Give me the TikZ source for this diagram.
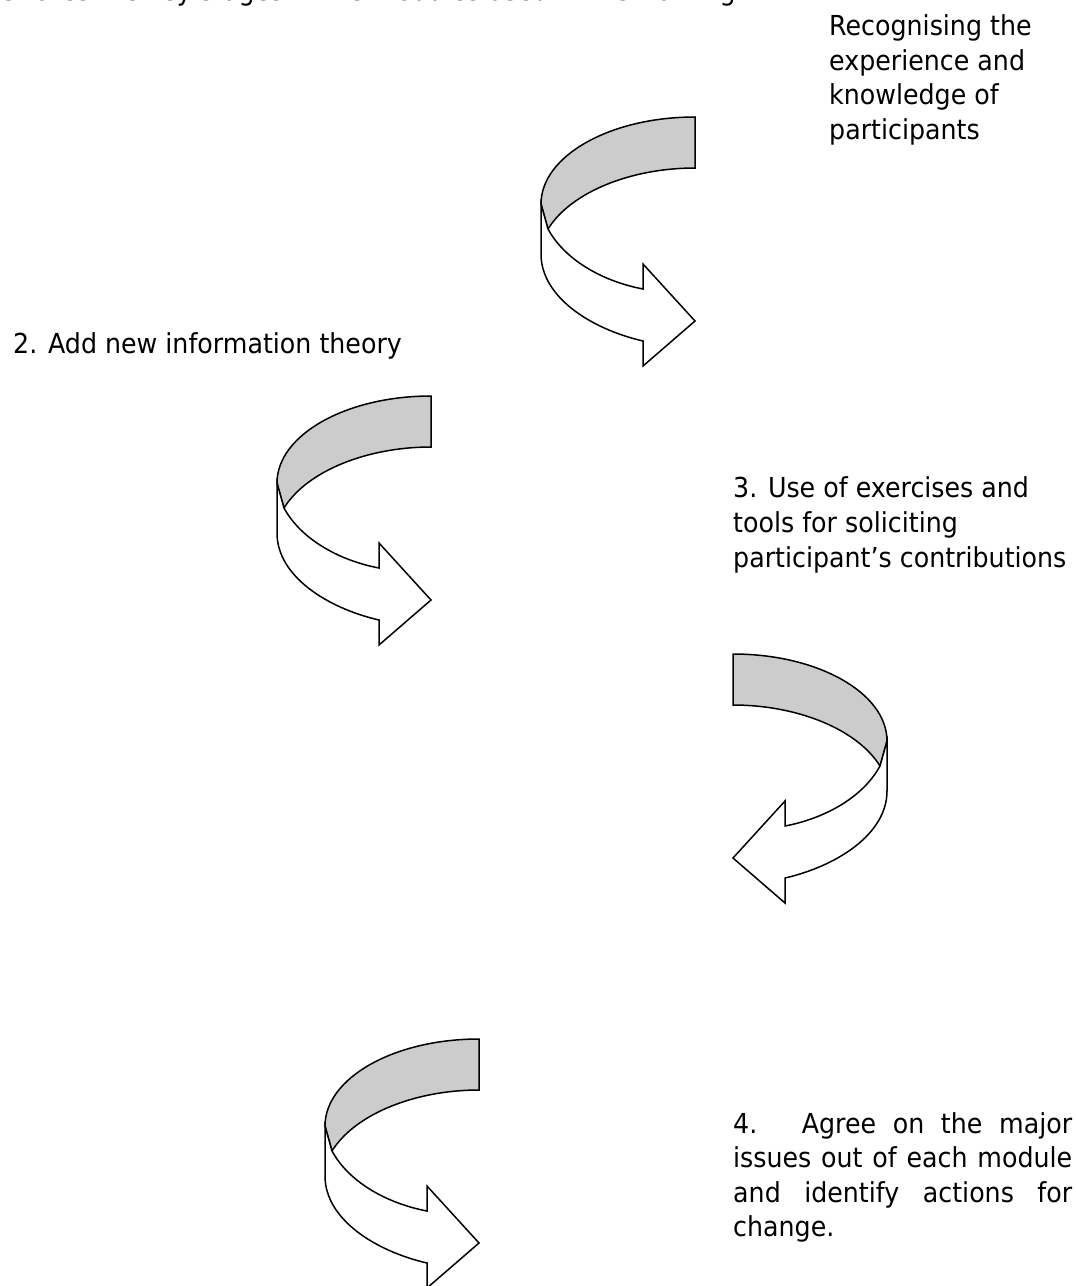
\documentclass[tikz,border=0pt]{standalone}
\usepackage{fontspec}
\setmainfont[FakeStretch=0.92]{DejaVu Sans}
\tikzset{
  lbl/.style={anchor=base west, inner sep=0pt, font=\fontsize{27.5}{34}\selectfont},
  band/.style={draw=black, line width=1.5pt, fill=black!20, line join=miter},
  face/.style={draw=black, line width=1.5pt, fill=white, line join=miter},
  carrow/.pic={
    \filldraw[band] (154,0) .. controls (69,0) and (0,39) .. (0,87) -- (7,112)
      .. controls (30,75) and (90,51) .. (154,51) -- cycle;
    \filldraw[face] (7,112) .. controls (25,145) and (65,165) .. (102,172)
      -- (102,147) -- (154,204) -- (102,249) -- (102,224)
      .. controls (50,212) and (0,180) .. (0,137) -- (0,87) -- cycle;
  }
}
\begin{document}
\begin{tikzpicture}[x=1pt,y=-1pt]
\useasboundingbox (0,0) rectangle (1076,1286);
\fill[white] (0,0) rectangle (1076,1286);
\clip (0,0) rectangle (1076,1286);
% cut-off line at the top
\node[lbl] (intro) at (-35,0) {illustrates the key stages in the modules used in the training};
% stage 1
\node[lbl] (t1a) at (829,35.5) {Recognising the};
\node[lbl] (t1b) at (829,70) {experience and};
\node[lbl] (t1c) at (829,104.5) {knowledge of};
\node[lbl] (t1d) at (829,139) {participants};
\pic at (541,117) {carrow};
% stage 2
\node[lbl] (t2) at (13,353) {2. Add new information theory};
\pic at (277,396) {carrow};
% stage 3
\node[lbl] (t3a) at (733,497) {3. Use of exercises and};
\node[lbl] (t3b) at (733,532) {tools for soliciting};
\node[lbl] (t3c) at (733,567) {participant’s contributions};
\pic[xscale=-1] at (887,654) {carrow};
% stage 4
\pic at (325,1039) {carrow};
\node[lbl] (t4a) at (733,1133) {\makebox[339pt][s]{4.\hspace{8pt} Agree on the major}};
\node[lbl] (t4b) at (733,1167.5) {\makebox[339pt][s]{issues out of each module}};
\node[lbl] (t4c) at (733,1202) {\makebox[339pt][s]{and identify actions for}};
\node[lbl] (t4d) at (733,1236.5) {change.};
\end{tikzpicture}
\end{document}
